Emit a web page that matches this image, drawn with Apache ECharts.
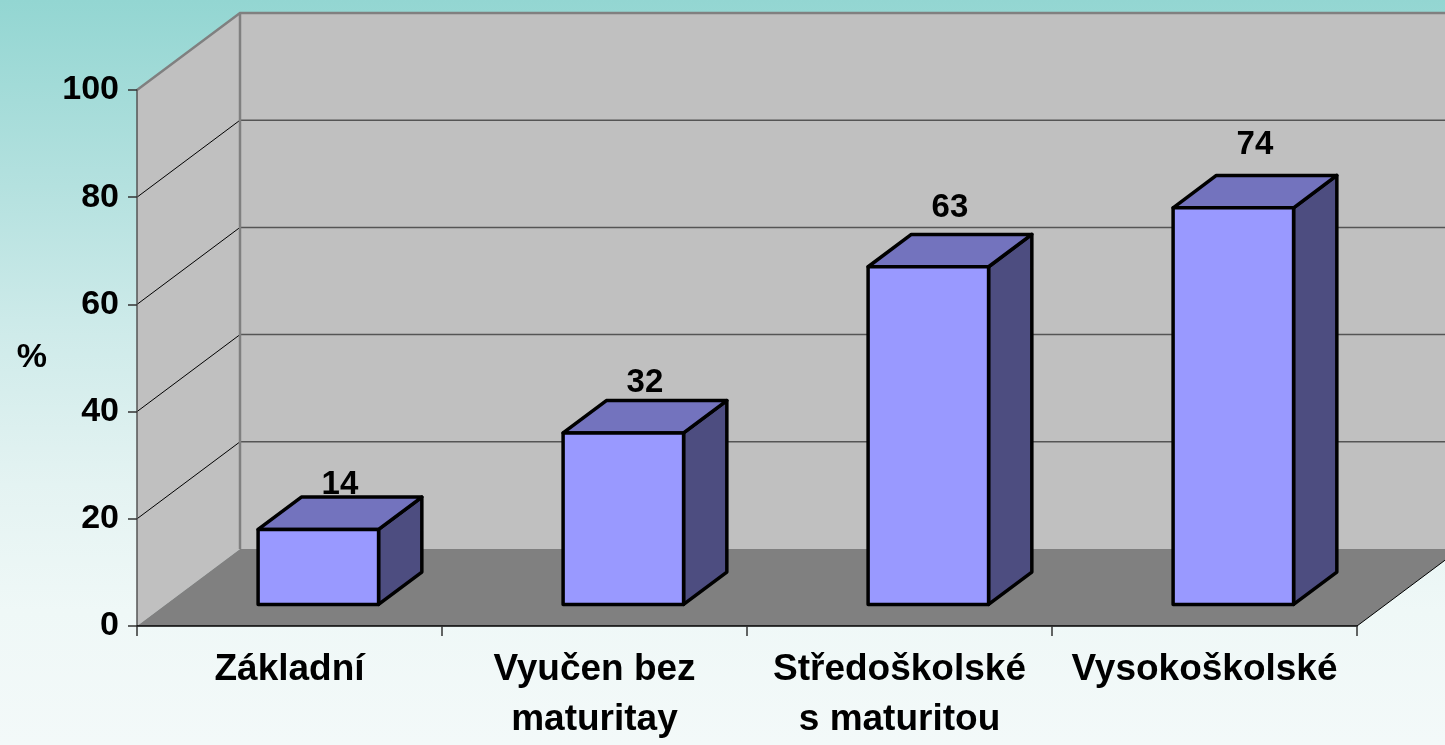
<!DOCTYPE html>
<html>
<head>
<meta charset="utf-8">
<script src="https://cdn.jsdelivr.net/npm/echarts@6/dist/echarts.min.js"></script>
<style>
  html, body { margin: 0; padding: 0; }
  body { width: 1445px; height: 745px; overflow: hidden;
    background: linear-gradient(to bottom, #93d6d2 0%, #b4e1df 25%, #cfebea 45%, #e4f3f2 65%, #eff8f7 82%, #f3f9f9 100%); }
  #chart { width: 1445px; height: 745px; }
</style>
</head>
<body>
<div id="chart"></div>
<script>
const categories = ['Základní', 'Vyučen bez\nmaturitay', 'Středoškolské\ns maturitou', 'Vysokoškolské'];
const values = [14, 32, 63, 74];
const yTicks = [0, 20, 40, 60, 80, 100];
const axisName = '%';

// 3D projection constants (pixels for full depth)
const DX = 103, DY = -77;
const BAR_FRONT = 0.28, BAR_DEPTH = 0.42, BAR_W = 0.395;
const FONT = '"Liberation Sans", Arial, sans-serif';

const chart = echarts.init(document.getElementById('chart'), null, { renderer: 'canvas' });

function renderWalls(params, api) {
  const cs = params.coordSys;
  const x = cs.x, w = cs.width;
  const yMax = yTicks[yTicks.length - 1];
  const yT = api.coord([0, yMax])[1];
  const yB = api.coord([0, 0])[1];
  const children = [];
  children.push({ type: 'polygon', shape: { points: [[x, yT], [x + DX, yT + DY], [x + DX, yB + DY], [x, yB]] },
    style: { fill: '#c0c0c0' } });
  children.push({ type: 'rect', shape: { x: x + DX, y: yT + DY, width: w, height: yB - yT },
    style: { fill: '#c0c0c0' } });
  children.push({ type: 'polygon', shape: { points: [[x, yB], [x + w, yB], [x + w + DX, yB + DY], [x + DX, yB + DY]] },
    style: { fill: '#808080' } });
  yTicks.forEach(function (t) {
    if (t === 0 || t === yMax) return;
    const yy = api.coord([0, t])[1];
    children.push({ type: 'line', shape: { x1: x + DX, y1: yy + DY, x2: x + w + DX, y2: yy + DY },
      style: { stroke: '#555555', lineWidth: 1.5 } });
    children.push({ type: 'line', shape: { x1: x, y1: yy, x2: x + DX, y2: yy + DY },
      style: { stroke: '#000000', lineWidth: 1 } });
  });
  children.push({ type: 'polyline', shape: { points: [[x, yT], [x + DX, yT + DY], [x + w + DX, yT + DY]] },
    style: { stroke: '#808080', lineWidth: 2.5, fill: null } });
  children.push({ type: 'line', shape: { x1: x + DX, y1: yT + DY, x2: x + DX, y2: yB + DY },
    style: { stroke: '#808080', lineWidth: 2.5 } });
  children.push({ type: 'line', shape: { x1: x + w, y1: yB, x2: x + w + DX, y2: yB + DY },
    style: { stroke: '#000000', lineWidth: 1 } });
  return { type: 'group', children: children };
}

function renderBar(params, api) {
  const idx = api.value(0), val = api.value(1);
  const top = api.coord([idx, val]);
  const base = api.coord([idx, 0]);
  const band = api.size([1, 0])[0];
  const w = band * BAR_W;
  const ox = DX * BAR_FRONT, oy = DY * BAR_FRONT;
  const dx = DX * BAR_DEPTH, dy = DY * BAR_DEPTH;
  const x0 = top[0] - w / 2 + ox, x1 = x0 + w;
  const yt = top[1] + oy, yb = base[1] + oy;
  const stroke = { stroke: '#000000', lineWidth: 3.5, lineJoin: 'round' };
  // label sits a little higher for taller bars, as in the source
  const labelLift = 24 + 0.3 * (top[1] < base[1] ? (base[1] - top[1]) / 5.38 : 0);
  return {
    type: 'group',
    children: [
      { type: 'polygon', shape: { points: [[x1, yt], [x1 + dx, yt + dy], [x1 + dx, yb + dy], [x1, yb]] },
        style: Object.assign({ fill: '#4d4d80' }, stroke) },
      { type: 'polygon', shape: { points: [[x0, yt], [x1, yt], [x1 + dx, yt + dy], [x0 + dx, yt + dy]] },
        style: Object.assign({ fill: '#7373be' }, stroke) },
      { type: 'polygon', shape: { points: [[x0, yt], [x1, yt], [x1, yb], [x0, yb]] },
        style: Object.assign({ fill: '#9999ff' }, stroke) },
      { type: 'text', x: (x0 + x1) / 2 + dx / 2, y: yt - labelLift,
        style: { text: String(val), fill: '#000', font: 'bold 33px ' + FONT,
          align: 'center', verticalAlign: 'bottom' } }
    ]
  };
}

const option = {
  backgroundColor: 'transparent',
  animation: false,
  grid: { left: 137, top: 90, width: 1220, height: 538, containLabel: false },
  xAxis: {
    type: 'category',
    data: categories,
    boundaryGap: true,
    z: 10,
    axisLine: { show: true, lineStyle: { color: '#000', width: 1.5 } },
    axisTick: { show: true, alignWithLabel: false, length: 10, lineStyle: { color: '#333', width: 1.5 } },
    axisLabel: { margin: 19, color: '#000', fontWeight: 'bold', fontSize: 37, lineHeight: 50,
      fontFamily: FONT, interval: 0 },
    splitLine: { show: false }
  },
  yAxis: {
    type: 'value',
    min: 0, max: 100, interval: 20,
    z: 10,
    name: axisName,
    nameLocation: 'middle',
    nameRotate: 0,
    nameGap: 90,
    nameTextStyle: { color: '#000', fontWeight: 'bold', fontSize: 34, fontFamily: FONT },
    axisLine: { show: true, lineStyle: { color: '#555', width: 1.5 } },
    axisTick: { show: true, length: 9, lineStyle: { color: '#333', width: 1.5 } },
    axisLabel: { margin: 18, color: '#000', fontWeight: 'bold', fontSize: 34, fontFamily: FONT },
    splitLine: { show: false }
  },
  series: [
    { type: 'custom', name: 'walls', z: 1, clip: false, silent: true,
      data: [[0, 0]], renderItem: renderWalls },
    { type: 'custom', name: 'bars', z: 3, clip: false,
      data: values.map(function (v, i) { return [i, v]; }), renderItem: renderBar }
  ]
};
chart.setOption(option);
</script>
</body>
</html>
